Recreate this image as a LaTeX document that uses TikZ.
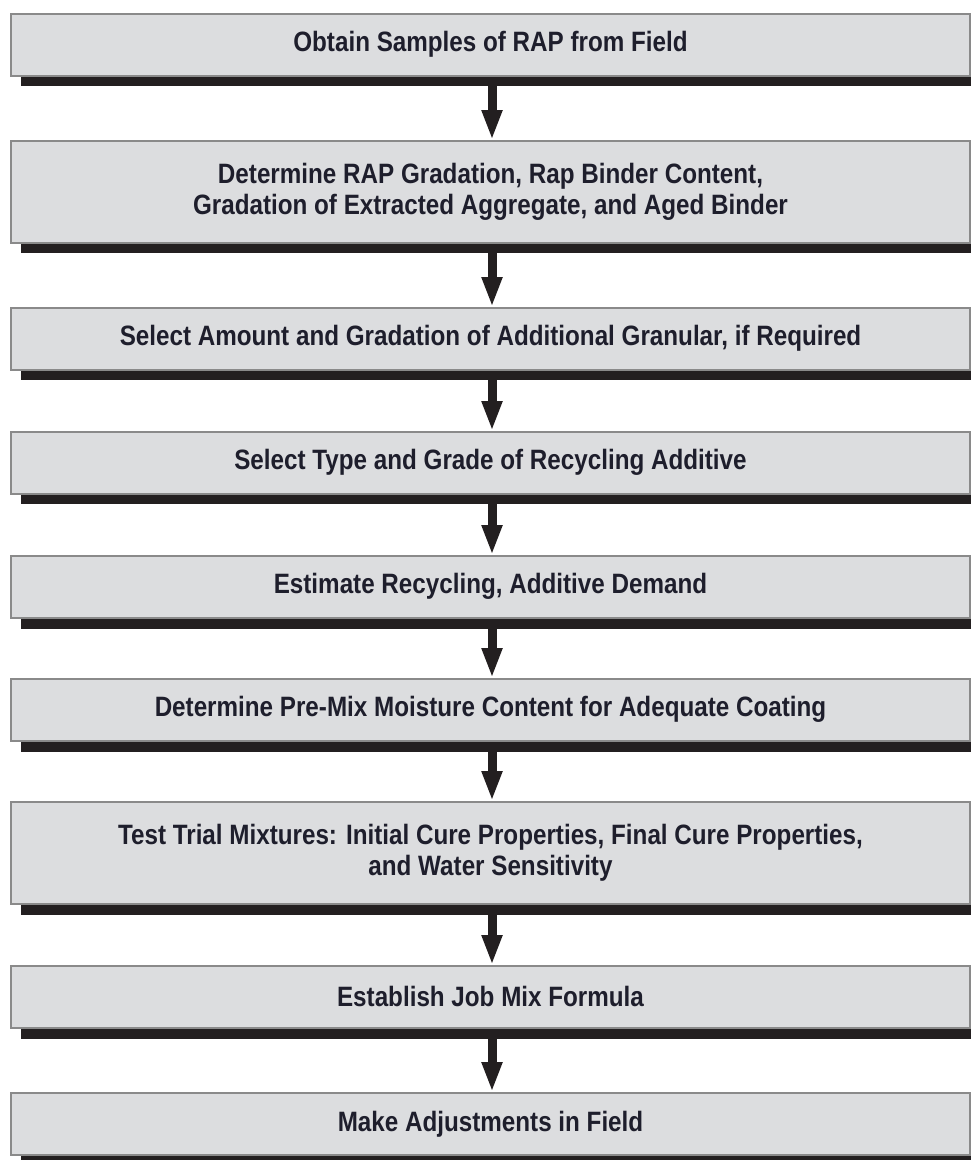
\documentclass[tikz,border=0pt]{standalone}
\usepackage{fontspec}
\setmainfont{Liberation Sans}[FakeStretch=0.865]
\usetikzlibrary{arrows.meta}
\definecolor{boxfill}{HTML}{DCDDDF}
\definecolor{boxline}{HTML}{8A8A8A}
\definecolor{shadowcol}{HTML}{231F20}
\definecolor{txtcol}{HTML}{1E1E2C}
\tikzset{
  stepbox/.style={draw=boxline, line width=1.5pt, fill=boxfill, anchor=north,
    minimum width=959pt, minimum height=62pt, inner sep=0pt, align=center,
    text=txtcol, font=\fontsize{28}{31}\selectfont\bfseries},
  tallbox/.style={stepbox, minimum height=102pt},
  shadowbar/.style={fill=shadowcol, anchor=north west, minimum width=960pt,
    minimum height=12pt, inner sep=0pt, outer sep=0pt},
  arr/.style={draw=shadowcol, line width=9pt, -{Triangle[width=19pt,length=30pt]}}
}
\begin{document}
\begin{tikzpicture}[x=1pt,y=-1pt]
\useasboundingbox (0,0) rectangle (971,1160);
\clip (0,0) rectangle (971,1160);
\coordinate (ax) at (492,0);
% shadows
\node[shadowbar] (s1) at (21,74) {};
\node[shadowbar] (s2) at (21,241) {};
\node[shadowbar] (s3) at (21,368) {};
\node[shadowbar] (s4) at (21,492) {};
\node[shadowbar] (s5) at (21,617) {};
\node[shadowbar] (s6) at (21,740) {};
\node[shadowbar] (s7) at (21,903) {};
\node[shadowbar] (s8) at (21,1027) {};
\node[shadowbar] (s9) at (21,1153) {};
% boxes
\node[stepbox] (b1) at (490.5,13) {Obtain Samples of RAP from Field};
\node[tallbox] (b2) at (490.5,140) {Determine RAP Gradation, Rap Binder Content,\\Gradation of Extracted Aggregate, and Aged Binder};
\node[stepbox] (b3) at (490.5,307) {Select Amount and Gradation of Additional Granular, if Required};
\node[stepbox] (b4) at (490.5,431) {Select Type and Grade of Recycling Additive};
\node[stepbox] (b5) at (490.5,555) {Estimate Recycling, Additive Demand};
\node[stepbox] (b6) at (490.5,678) {Determine Pre-Mix Moisture Content for Adequate Coating};
\node[tallbox] (b7) at (490.5,801) {Test Trial Mixtures: Initial Cure Properties, Final Cure Properties,\\and Water Sensitivity};
\node[stepbox] (b8) at (490.5,965) {Establish Job Mix Formula};
\node[stepbox] (b9) at (490.5,1092) {Make Adjustments in Field};
% arrows
\draw[arr] (s1.south -| ax) -- (b2.north -| ax);
\draw[arr] (s2.south -| ax) -- (b3.north -| ax);
\draw[arr] (s3.south -| ax) -- (b4.north -| ax);
\draw[arr] (s4.south -| ax) -- (b5.north -| ax);
\draw[arr] (s5.south -| ax) -- (b6.north -| ax);
\draw[arr] (s6.south -| ax) -- (b7.north -| ax);
\draw[arr] (s7.south -| ax) -- (b8.north -| ax);
\draw[arr] (s8.south -| ax) -- (b9.north -| ax);
\end{tikzpicture}
\end{document}
